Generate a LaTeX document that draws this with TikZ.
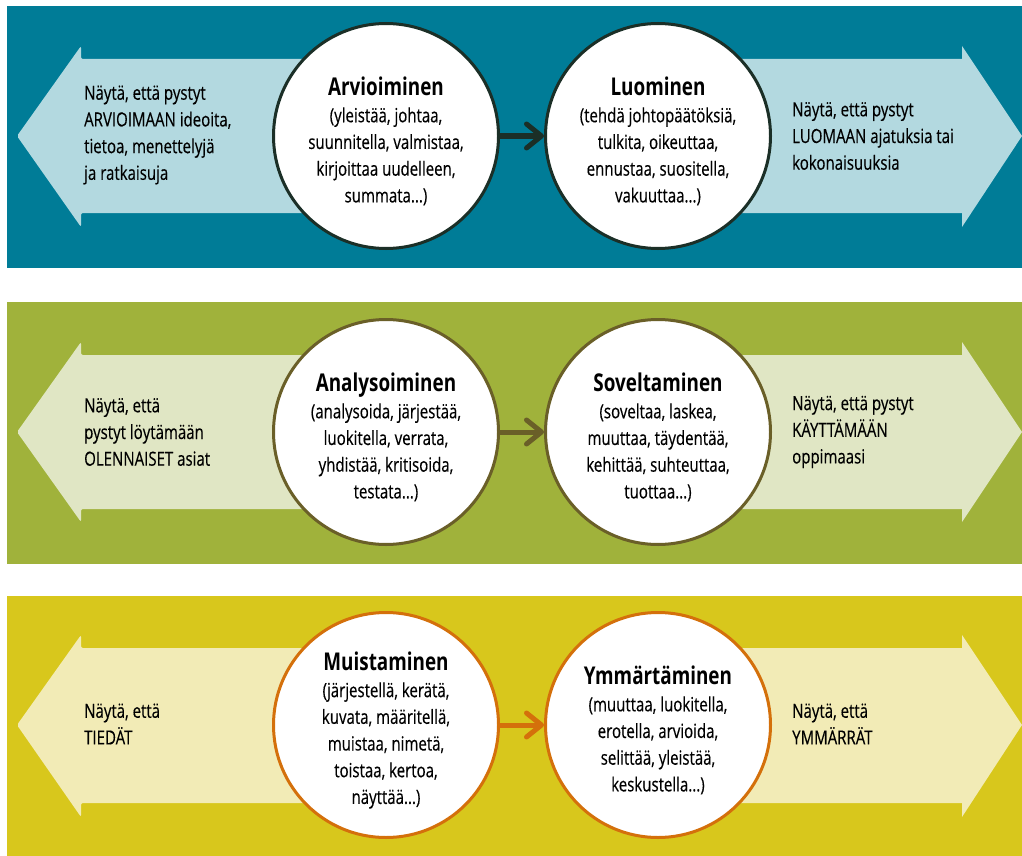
\documentclass[tikz,border=0pt]{standalone}
\usepackage{fontspec}
\setmainfont{Open Sans}[FakeStretch=0.77,UprightFeatures={FakeBold=0.35}]
\usepackage{tikz}
\usetikzlibrary{positioning}
\usetikzlibrary{arrows.meta}

\definecolor{tealband}{HTML}{007C97}
\definecolor{tealarrow}{HTML}{B3D9E0}
\definecolor{tealline}{HTML}{1B2F27}
\definecolor{greenband}{HTML}{A0B23B}
\definecolor{greenarrow}{HTML}{E0E6C4}
\definecolor{greenline}{HTML}{6A5F28}
\definecolor{yellowband}{HTML}{D8C71C}
\definecolor{yellowarrow}{HTML}{F2EBB6}
\definecolor{yellowline}{HTML}{D4700B}

\begin{document}
\begin{tikzpicture}[x=1pt,y=-1pt,>={Straight Barb[length=15pt,width=24pt,round]},
                    node distance=44pt,
                    level node/.style={circle,draw,line width=3pt,fill=white,minimum size=225pt,
                      inner sep=0pt,align=center,font=\fontsize{19.5}{26.7}\selectfont},
                    note/.style={anchor=west,align=left,inner sep=0pt,font=\fontsize{19.5}{26.7}\selectfont},
                    link/.style={->,line width=5pt}]

		\useasboundingbox (0,0) rectangle (1022,856);

		% top band
		\fill[tealband] (7,6) rectangle (1022,268);
		\fill[tealarrow,rounded corners=2pt] (386,59) -- (81,59) -- (81,46) -- (17,136) -- (81,227) -- (81,213) -- (386,213) -- cycle;
		\fill[tealarrow] (657,59) -- (962,59) -- (962,46) -- (1022,136) -- (962,227) -- (962,213) -- (657,213) -- cycle;

		\node[level node,draw=tealline] (arv) at (386,136)
			{{\fontsize{24.5}{30}\selectfont\bfseries\rule{0pt}{29pt}Arvioiminen}\\(yleistää, johtaa,\\suunnitella, valmistaa,\\kirjoittaa uudelleen,\\summata...)};
		\node[level node,draw=tealline] (luo) [right=of arv]
			{{\fontsize{24.5}{30}\selectfont\bfseries\rule{0pt}{29pt}Luominen}\\(tehdä johtopäätöksiä,\\tulkita, oikeuttaa,\\ennustaa, suositella,\\vakuuttaa...)};
		\node[note] (arvnote) at (84,135) {Näytä, että pystyt\\ARVIOIMAAN ideoita,\\tietoa, menettelyjä\\ja ratkaisuja};
		\node[note] (luonote) at (792,136) {Näytä, että pystyt\\LUOMAAN ajatuksia tai\\kokonaisuuksia};

		\path (arv) edge[link,draw=tealline] (luo);

		% middle band
		\fill[greenband] (7,302) rectangle (1022,564);
		\fill[greenarrow,rounded corners=2pt] (386,355) -- (81,355) -- (81,342) -- (17,432) -- (81,522) -- (81,509) -- (386,509) -- cycle;
		\fill[greenarrow] (657,355) -- (962,355) -- (962,342) -- (1022,432) -- (962,522) -- (962,509) -- (657,509) -- cycle;

		\node[level node,draw=greenline] (ana) at (386,432)
			{{\fontsize{24.5}{30}\selectfont\bfseries\rule{0pt}{29pt}Analysoiminen}\\(analysoida, järjestää,\\luokitella, verrata,\\yhdistää, kritisoida,\\testata...)};
		\node[level node,draw=greenline] (sov) [right=of ana]
			{{\fontsize{24.5}{30}\selectfont\bfseries\rule{0pt}{29pt}Soveltaminen}\\(soveltaa, laskea,\\muuttaa, täydentää,\\kehittää, suhteuttaa,\\tuottaa...)};
		\node[note] (ananote) at (84,432) {Näytä, että\\pystyt löytämään\\OLENNAISET asiat};
		\node[note] (sovnote) at (792,432) {Näytä, että pystyt\\KÄYTTÄMÄÄN\\oppimaasi};

		\path (ana) edge[link,draw=greenline] (sov);

		% bottom band
		\fill[yellowband] (7,596) rectangle (1022,856);
		\fill[yellowarrow,rounded corners=2pt] (386,648) -- (81,648) -- (81,635) -- (17,725) -- (81,817) -- (81,803) -- (386,803) -- cycle;
		\fill[yellowarrow] (657,648) -- (962,648) -- (962,635) -- (1022,725) -- (962,817) -- (962,803) -- (657,803) -- cycle;

		\node[level node,draw=yellowline] (mui) at (386,725)
			{{\fontsize{24.5}{30}\selectfont\bfseries\rule{0pt}{29pt}Muistaminen}\\(järjestellä, kerätä,\\kuvata, määritellä,\\muistaa, nimetä,\\toistaa, kertoa,\\näyttää...)};
		\node[level node,draw=yellowline] (ymm) [right=of mui]
			{{\fontsize{24.5}{30}\selectfont\bfseries\rule{0pt}{29pt}Ymmärtäminen}\\(muuttaa, luokitella,\\erotella, arvioida,\\selittää, yleistää,\\keskustella...)};
		\node[note] (muinote) at (84,724) {Näytä, että\\TIEDÄT};
		\node[note] (ymmnote) at (792,724) {Näytä, että\\YMMÄRRÄT};

		\path (mui) edge[link,draw=yellowline] (ymm);
	\end{tikzpicture}
\end{document}
